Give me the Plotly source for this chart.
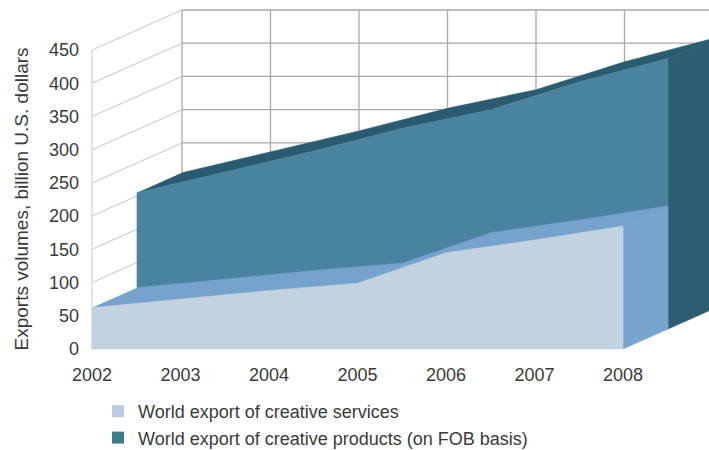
import plotly.graph_objects as go

# ---- data ----
years = [2002, 2003, 2004, 2005, 2006, 2007, 2008]
services = [62, 75, 88, 99, 145, 164, 185]
products = [205, 236, 268, 302, 330, 372, 407]
y_ticks = [0, 50, 100, 150, 200, 250, 300, 350, 400, 450]
x_labels = [str(y) for y in years]
series_names = ["World export of creative services",
                "World export of creative products (on FOB basis)"]
y_title = "Exports volumes, billion U.S. dollars"

# ---- pseudo-3D geometry (in data units) ----
PX_PER_YEAR = 88.5
PX_PER_UNIT = 299 / 450
DX = 90 / PX_PER_YEAR          # full depth, horizontal shift
DY = 40 / PX_PER_UNIT          # full depth, vertical shift
W, H = 709, 450
ML, MR, MT, MB = 88, 0, 5, 98
X0_PX, Y0_PX = 92, 349         # pixel of (2002, 0) on the front plane


def x_at(px):
    return years[0] + (px - X0_PX) / PX_PER_YEAR


def y_at(px):
    return (Y0_PX - px) / PX_PER_UNIT


def poly(xs, ys, color):
    return go.Scatter(x=xs, y=ys, mode="lines", fill="toself", fillcolor=color,
                      line=dict(width=0.6, color=color), hoverinfo="skip",
                      showlegend=False)


def lines(xs, ys, color, width):
    return go.Scatter(x=xs, y=ys, mode="lines", line=dict(width=width, color=color),
                      hoverinfo="skip", showlegend=False)


traces = []

# back wall grid
bx, by = [], []
for v in y_ticks:
    bx += [years[0] + DX, years[-1] + DX + 0.2, None]
    by += [v + DY, v + DY, None]
for yr in years:
    bx += [yr + DX, yr + DX, None]
    by += [DY, y_ticks[-1] + DY, None]
traces.append(lines(bx, by, "#a9a9a9", 1.3))

# left wall grid
lx, ly = [], []
for v in y_ticks:
    lx += [years[0], years[0] + DX, None]
    ly += [v, v + DY, None]
lx += [years[0], years[0], None]
ly += [0, y_ticks[-1], None]
traces.append(lines(lx, ly, "#cdcdcd", 1.1))


def faces(vals, d0, d1, c_front, c_top, c_side):
    n = len(years)
    xf = [yr + d0 * DX for yr in years]
    xb = [yr + d1 * DX for yr in years]
    top = poly(xf + xb[::-1],
               [v + d0 * DY for v in vals] + [v + d1 * DY for v in vals][::-1],
               c_top)
    side = poly([xf[-1], xf[-1], xb[-1], xb[-1], xf[-1]],
                [d0 * DY, vals[-1] + d0 * DY, vals[-1] + d1 * DY, d1 * DY, d0 * DY],
                c_side)
    front = poly(xf + xf[::-1] + [xf[0]],
                 [v + d0 * DY for v in vals] + [d0 * DY] * n + [vals[0] + d0 * DY],
                 c_front)
    return [top, side, front]


# back row: products, front row: services
traces += faces(products, 0.5, 1.0, "#4a83a0", "#2b5b71", "#2d5d71")
traces += faces(services, 0.0, 0.5, "#c2d2df", "#76a3ce", "#78a5cf")

# legend entries
traces.append(go.Scatter(x=[None], y=[None], mode="markers", name=series_names[0],
                         marker=dict(symbol="square", size=12, color="#b9cdde")))
traces.append(go.Scatter(x=[None], y=[None], mode="markers", name=series_names[1],
                         marker=dict(symbol="square", size=12, color="#3c7d8c")))

fig = go.Figure(traces)

plot_w = W - ML - MR
plot_h = H - MT - MB
fig.update_layout(
    width=W, height=H,
    margin=dict(l=ML, r=MR, t=MT, b=MB, pad=0, autoexpand=False),
    paper_bgcolor="white", plot_bgcolor="white",
    font=dict(family="Liberation Sans, Arial, sans-serif", size=18, color="#3a3a3a"),
    showlegend=True,
    legend=dict(x=(98 - ML) / plot_w, y=(H - MB - 393) / plot_h,
                xanchor="left", yanchor="top", bgcolor="rgba(0,0,0,0)",
                font=dict(size=18), tracegroupgap=0),
    xaxis=dict(range=[x_at(ML), x_at(W - MR)], tickmode="array", tickvals=years,
               ticktext=x_labels, showgrid=False, zeroline=False, showline=False,
               ticks="", ticklabelstandoff=10, fixedrange=True),
    yaxis=dict(range=[y_at(H - MB), y_at(MT)], tickmode="array", tickvals=y_ticks,
               showgrid=False, zeroline=False, showline=False, ticks="",
               ticklabelstandoff=8, fixedrange=True),
    annotations=[dict(text=y_title, textangle=-90, xref="paper", yref="y",
                      x=(21 - ML) / plot_w, y=(y_ticks[0] + y_ticks[-1]) / 2,
                      xanchor="center", yanchor="middle", showarrow=False,
                      font=dict(size=19, color="#3a3a3a"))],
)

fig.write_html("out.html")
